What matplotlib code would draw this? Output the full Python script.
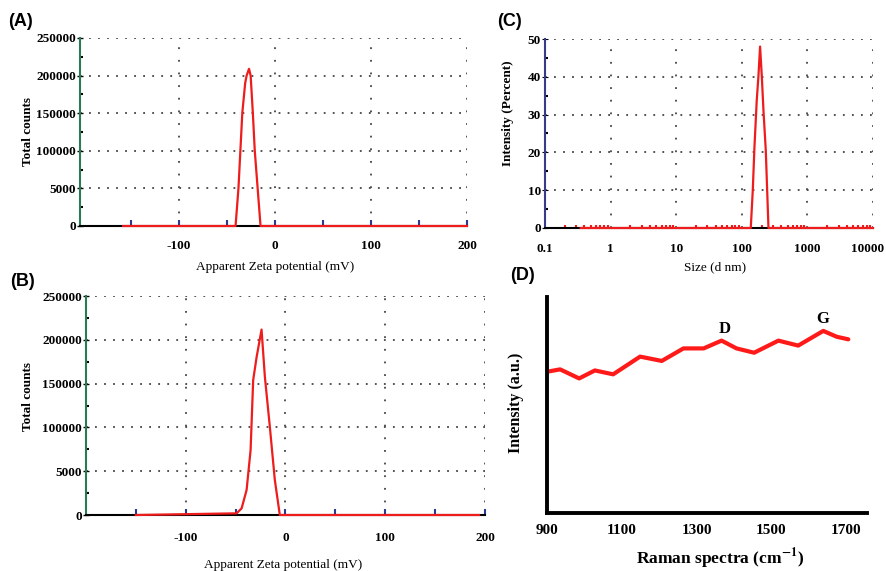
import matplotlib
matplotlib.use('Agg')
import matplotlib.pyplot as plt
import matplotlib.transforms as mtransforms
import numpy as np
from matplotlib.ticker import FixedLocator, MultipleLocator, NullFormatter

plt.rcParams['mathtext.fontset'] = 'stix'

# ---------------- data ----------------
# (A) zeta potential, sample 1
zeta_a_x = [-158, -41, -38, -36, -34, -31, -29.5, -27, -25.3, -23, -21, -18, -15, 200]
zeta_a_y = [0, 0, 50000, 100000, 150000, 190000, 200000, 209000, 200000, 150000, 100000, 50000, 0, 0]

# (B) zeta potential, sample 2
zeta_b_x = [-150, -49, -44, -39, -35, -32.4, -29, -24, -20.7, -15.7, -10.7, -5.7, 194]
zeta_b_y = [0, 1900, 7600, 28500, 74000, 154000, 180000, 211700, 158000, 100700, 40000, 0, 0]

# (C) DLS size distribution
size_x = [0.35, 137, 147, 156, 169, 179, 190, 202, 214, 232, 255, 10000]
size_y = [0, 0, 10, 21.5, 33.8, 40, 48, 40, 31, 20.6, 0, 0]

# (D) Raman spectrum
raman_x = [900, 935, 986, 1028, 1077, 1149, 1207, 1265, 1319, 1367, 1407,
           1454, 1519, 1572, 1639, 1675, 1706]
raman_y = [0.654, 0.665, 0.623, 0.66, 0.642, 0.724, 0.704, 0.762, 0.762, 0.798,
           0.762, 0.742, 0.798, 0.775, 0.843, 0.816, 0.804]

count_ticks = [0, 50000, 100000, 150000, 200000, 250000]
count_labels = ['0', '5000', '100000', '150000', '200000', '250000']
zeta_ticks = [-100, 0, 100, 200]
size_ticks = [0.1, 1, 10, 100, 1000, 10000]
size_labels = ['0.1', '1', '10', '100', '1000', '10000']
pct_ticks = [0, 10, 20, 30, 40, 50]
raman_ticks = [900, 1100, 1300, 1500, 1700]

SERIF = 'Liberation Serif'
SANS = 'Liberation Sans'
W, H = 887, 571


def ax_at(fig, left, top, right, bottom):
    # pixel box -> figure fractions
    return fig.add_axes([left / W, 1 - bottom / H, (right - left) / W, (bottom - top) / H])


def style_zeta(ax, spine_col):
    for s in ['top', 'right']:
        ax.spines[s].set_visible(False)
    ax.spines['left'].set_color(spine_col)
    ax.spines['left'].set_linewidth(1.5)
    ax.spines['bottom'].set_color('black')
    ax.spines['bottom'].set_linewidth(1.5)
    ax.set_ylim(0, 250000)
    ax.yaxis.set_major_locator(FixedLocator(count_ticks))
    ax.set_yticklabels(count_labels)
    ax.yaxis.set_minor_locator(MultipleLocator(25000))
    ax.xaxis.set_major_locator(FixedLocator(zeta_ticks))
    ax.set_xticklabels([str(t) for t in zeta_ticks])
    ax.xaxis.set_minor_locator(FixedLocator([-150, -50, 50, 150]))
    ax.tick_params(axis='y', which='major', direction='inout', length=4, width=1,
                   pad=1, labelsize=9.5)
    ax.tick_params(axis='y', which='minor', direction='in', length=2, width=1.5)
    ax.tick_params(axis='x', which='both', direction='in', length=4, width=1.5,
                   color='#2b3a8f', labelsize=9.5)
    ax.grid(True, axis='y', which='major', color='#444444', linestyle=(0, (1, 4)), lw=1.3)
    ax.grid(True, axis='x', which='major', color='#444444', linestyle=(0, (1, 6)), lw=1.3)
    for lab in ax.get_xticklabels() + ax.get_yticklabels():
        lab.set_fontfamily(SERIF)
        lab.set_fontweight('bold')


fig = plt.figure(figsize=(W / 100, H / 100), dpi=100)

# ---------------- (A) ----------------
ax = ax_at(fig, 80, 38, 467, 226)
ax.plot(zeta_a_x, zeta_a_y, color='#ee1c1c', lw=1.6, clip_on=False, zorder=5)
ax.set_xlim(-203, 200)
style_zeta(ax, '#2a7a55')
ax.tick_params(axis='x', pad=10)
ax.set_xlabel('Apparent Zeta potential (mV)', family=SERIF, fontsize=9.5)
ax.xaxis.set_label_coords(0.504, -0.186)
ax.set_ylabel('Total counts', family=SERIF, fontsize=9.5, fontweight='bold')
ax.yaxis.set_label_coords(-0.119, 0.5)

# ---------------- (B) ----------------
ax = ax_at(fig, 86, 296, 485, 515)
ax.plot(zeta_b_x, zeta_b_y, color='#ee1c1c', lw=1.6, clip_on=False, zorder=5)
ax.set_xlim(-200, 200)
style_zeta(ax, '#2a7a55')
ax.tick_params(axis='x', pad=12)
ax.set_xlabel('Apparent Zeta potential (mV)', family=SERIF, fontsize=9.5)
ax.xaxis.set_label_coords(0.494, -0.201)
ax.set_ylabel('Total counts', family=SERIF, fontsize=9.5, fontweight='bold')
ax.yaxis.set_label_coords(-0.130, 0.54)

# ---------------- (C) ----------------
ax = ax_at(fig, 545, 39, 873, 228)
ax.plot(size_x, size_y, color='#ee1c1c', lw=1.6, clip_on=False, zorder=5)
ax.set_xscale('log')
ax.set_xlim(0.1, 10000)
ax.set_ylim(0, 50)
for s in ['top', 'right']:
    ax.spines[s].set_visible(False)
ax.spines['left'].set_color('#3a3a8a')
ax.spines['left'].set_linewidth(1.5)
ax.spines['bottom'].set_linewidth(1.5)
ax.xaxis.set_major_locator(FixedLocator(size_ticks))
ax.set_xticklabels(size_labels)
ax.xaxis.set_minor_formatter(NullFormatter())
ax.yaxis.set_major_locator(FixedLocator(pct_ticks))
ax.yaxis.set_minor_locator(MultipleLocator(5))
ax.tick_params(axis='x', which='major', direction='in', length=0, pad=11, labelsize=9.5)
ax.tick_params(axis='x', which='minor', direction='in', length=2.5, width=1.5,
               color='#ee1c1c')
ax.tick_params(axis='y', which='major', direction='inout', length=4, pad=1, labelsize=9.5)
ax.tick_params(axis='y', which='minor', direction='in', length=2, width=1.5)
ax.grid(True, axis='y', which='major', color='#444444', linestyle=(0, (1, 4)), lw=1.3)
ax.grid(True, axis='x', which='major', color='#444444', linestyle=(0, (1, 6)), lw=1.3)
for lab in ax.get_xticklabels() + ax.get_yticklabels():
    lab.set_fontfamily(SERIF)
    lab.set_fontweight('bold')
# keep the last label inside the canvas
last = ax.get_xticklabels()[-1]
last.set_transform(last.get_transform() +
                   mtransforms.ScaledTranslation(-5 / 100, 0, fig.dpi_scale_trans))
ax.set_xlabel('Size (d nm)', family=SERIF, fontsize=9.5)
ax.xaxis.set_label_coords(0.518, -0.175)
ax.set_ylabel('Intensity (Percent)', family=SERIF, fontsize=9.5, fontweight='bold')
ax.yaxis.set_label_coords(-0.095, 0.61)

# ---------------- (D) ----------------
ax = ax_at(fig, 547, 297, 867, 513)
ax.plot(raman_x, raman_y, color='#ff1a1a', lw=3, solid_capstyle='round')
ax.set_xlim(900, 1756)
ax.set_ylim(0, 1)
for s in ['top', 'right']:
    ax.spines[s].set_visible(False)
for s in ['left', 'bottom']:
    ax.spines[s].set_linewidth(2.8)
ax.set_yticks([])
ax.xaxis.set_major_locator(FixedLocator(raman_ticks))
ax.set_xticklabels([str(t) for t in raman_ticks])
ax.tick_params(axis='x', length=0, pad=8, labelsize=11)
for lab in ax.get_xticklabels():
    lab.set_fontfamily(SERIF)
    lab.set_fontweight('bold')
ax.text(1376, 0.852, 'D', family=SERIF, fontweight='bold', fontsize=12,
        ha='center', va='center')
ax.text(1638, 0.90, 'G', family=SERIF, fontweight='bold', fontsize=12,
        ha='center', va='center')
ax.set_xlabel(r'Raman spectra (cm$^{\mathbf{-1}}$)', family=SERIF, fontsize=12.5,
              fontweight='bold')
ax.xaxis.set_label_coords(0.54, -0.152)
ax.set_ylabel('Intensity (a.u.)', family=SERIF, fontsize=11.5, fontweight='bold')
ax.yaxis.set_label_coords(-0.072, 0.51)

# panel letters
for lbl, px, py in [('(A)', 8, 22), ('(B)', 10, 282), ('(C)', 497, 22), ('(D)', 510, 276)]:
    fig.text(px / W, 1 - py / H, lbl, family=SANS, fontweight='bold', fontsize=13,
             ha='left', va='center')

plt.savefig('out.png', dpi=100)
